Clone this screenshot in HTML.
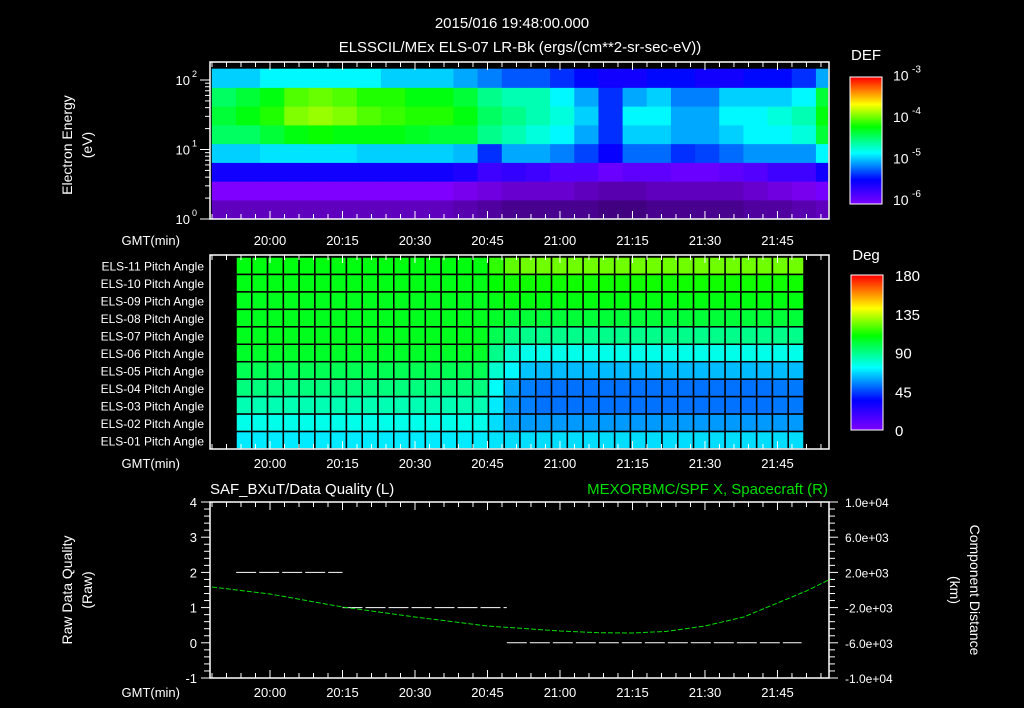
<!DOCTYPE html>
<html><head><meta charset="utf-8"><style>
html,body{margin:0;padding:0;background:#000;}
svg{display:block;font-family:"Liberation Sans",sans-serif;}
text{fill:#fff;}
</style></head><body>
<svg id="c" width="1024" height="708" viewBox="0 0 1024 708" xmlns="http://www.w3.org/2000/svg">
<rect width="1024" height="708" fill="#000"/>
<text x="512" y="28" font-size="15" text-anchor="middle">2015/016 19:48:00.000</text>
<text x="520" y="52" font-size="15" text-anchor="middle">ELSSCIL/MEx ELS-07 LR-Bk  (ergs/(cm**2-sr-sec-eV))</text>
<g id="top"></g>
<g id="mid"></g>
<g id="bot"></g>
</svg>
<script>
// ---------- DATA ----------
const specTimes = [0,5,10,15,20,25,30,35,40,45,50,55,60,65,70,75,80,85,90,95,100,105,110,115,120,125];
const specBands = [0,0.27,0.54,0.81,1.08,1.35,1.62,1.89];
const specR0 = [-6.2,-6.2,-6.2,-6.2,-6.2,-6.2,-6.2,-6.2,-6.2,-6.2,-6.25,-6.3,-6.35,-6.35,-6.35,-6.35,-6.4,-6.4,-6.35,-6.35,-6.35,-6.35,-6.3,-6.3,-6.25,-6.2];
const specR1 = [-6.0,-6.0,-6.0,-6.0,-6.0,-6.0,-6.0,-6.0,-6.0,-6.0,-6.05,-6.1,-6.15,-6.15,-6.15,-6.2,-6.25,-6.25,-6.2,-6.2,-6.2,-6.2,-6.15,-6.1,-6.05,-5.95];
const specR2 = [-5.5,-5.5,-5.5,-5.5,-5.5,-5.5,-5.5,-5.5,-5.5,-5.5,-5.55,-5.7,-5.65,-5.7,-5.8,-5.8,-5.9,-5.85,-5.85,-5.9,-5.9,-5.85,-5.8,-5.7,-5.7,-5.5];
const specR3 = [-4.9,-4.9,-4.85,-4.85,-4.85,-4.85,-4.9,-4.9,-4.9,-4.9,-4.95,-5.3,-5.0,-5.0,-5.1,-5.25,-5.45,-5.15,-5.15,-5.3,-5.25,-5.15,-5.05,-5.05,-5.05,-4.8];
const specR4 = [-4.4,-4.4,-4.3,-4.2,-4.15,-4.2,-4.2,-4.2,-4.25,-4.3,-4.3,-4.5,-4.6,-4.7,-4.8,-5.0,-5.3,-4.9,-4.9,-5.0,-5.0,-4.9,-4.8,-4.8,-4.7,-4.3];
const specR5 = [-4.3,-4.2,-4.1,-3.9,-3.85,-3.9,-4.0,-4.05,-4.1,-4.1,-4.2,-4.4,-4.5,-4.6,-4.7,-4.9,-5.3,-4.8,-4.8,-5.0,-5.0,-4.8,-4.8,-4.7,-4.6,-4.2];
const specR6 = [-4.4,-4.3,-4.2,-4.0,-3.95,-4.0,-4.1,-4.1,-4.2,-4.2,-4.3,-4.5,-4.6,-4.6,-4.8,-5.0,-5.3,-5.0,-4.9,-5.1,-5.1,-4.9,-4.9,-4.9,-4.8,-4.3];
const specR7 = [-4.9,-4.9,-4.8,-4.8,-4.8,-4.8,-4.8,-4.9,-4.9,-4.9,-5.0,-5.1,-5.2,-5.2,-5.3,-5.4,-5.5,-5.5,-5.4,-5.4,-5.5,-5.5,-5.4,-5.4,-5.3,-5.0];
const timeTickLabels = ["20:00","20:15","20:30","20:45","21:00","21:15","21:30","21:45"];
const timeTickMins = [12,27,42,57,72,87,102,117];
const energyTickLabels = ["0","1","2"];
const defTickLabels = ["-6","-5","-4","-3"];
const pitchLabels = ["ELS-11","ELS-10","ELS-09","ELS-08","ELS-07","ELS-06","ELS-05","ELS-04","ELS-03","ELS-02","ELS-01"];
const pitch11 = [108,108,108,108,108,108,108,108,108,108,108,108,108,108,108,108,116,122,124,124,124,124,124,124,124,124,124,124,124,124,124,124,124,124,124,124];
const pitch10 = [107,107,107,107,107,107,107,107,107,107,107,107,107,107,107,107,110,112,112,112,112,112,112,112,112,112,112,112,112,112,112,112,112,112,112,112];
const pitch09 = [106,106,106,106,106,106,106,106,106,106,106,106,106,106,106,106,107,108,108,108,108,108,108,108,108,108,108,108,108,108,108,108,108,108,108,108];
const pitch08 = [106,106,106,106,106,106,106,106,106,106,106,106,106,106,106,106,104,102,102,102,102,102,102,102,102,102,102,102,102,102,102,102,102,102,102,102];
const pitch07 = [106,106,106,106,106,106,106,106,106,106,106,106,106,106,106,106,98,92,90,90,90,90,90,90,90,90,90,90,90,90,90,90,90,90,90,90];
const pitch06 = [104,104,104,104,104,104,104,104,104,104,104,104,104,104,104,104,90,80,76,76,76,76,76,76,76,76,76,76,76,76,76,76,76,76,76,76];
const pitch05 = [98,98,98,98,98,98,98,98,98,98,98,98,98,98,98,98,80,72,64,63,63,63,63,63,63,63,63,63,63,63,63,63,63,63,63,63];
const pitch04 = [92,92,92,92,92,92,92,92,92,92,92,92,92,92,92,92,74,60,54,52,52,52,52,52,52,52,52,52,52,52,52,52,52,52,53,53];
const pitch03 = [84,84,84,84,84,84,84,84,84,84,84,84,84,84,84,84,70,58,54,52,52,52,52,52,52,52,52,52,52,52,52,52,52,52,53,53];
const pitch02 = [76,76,76,76,76,76,76,76,76,76,76,76,76,76,76,76,68,60,58,58,58,58,58,58,58,58,58,58,58,58,58,58,58,58,58,58];
const pitch01 = [70,70,70,70,70,70,70,70,70,70,70,70,70,70,70,70,69,68,68,68,68,68,68,68,68,68,68,68,68,68,68,68,68,68,68,68];
const degTickLabels = ["0","45","90","135","180"];
const qualStart = [5,27,61];
const qualEnd = [27,61,122];
const qualValue = [2,1,0];
const qualTickLabels = ["-1","0","1","2","3","4"];
const distTimes = [0,12,27,42,57,72,80,87,94,102,110,117,123,128];
const distValues = [340,-455,-1930,-3070,-4090,-4660,-4850,-4890,-4700,-4090,-3070,-1480,-100,1250];
const distTickLabels = ["-1.0e+04","-6.0e+03","-2.0e+03","2.0e+03","6.0e+03","1.0e+04"];
const distTickValues = [-10000,-6000,-2000,2000,6000,10000];

// ---------- HELPERS ----------
const NS="http://www.w3.org/2000/svg";
function mk(tag, attrs, parent){const e=document.createElementNS(NS,tag);for(const k in attrs)e.setAttribute(k,attrs[k]);parent.appendChild(e);return e;}
const X0=212, PXM=4.833;
function xT(t){return X0+t*PXM;}
const stops=[[0,[128,0,255]],[35,[0,0,255]],[73,[0,255,255]],[110,[0,255,0]],[142,[255,255,0]],[180,[255,0,0]]];
function cmapRGB(d){d=Math.max(0,Math.min(180,d));for(let i=0;i<stops.length-1;i++){const a=stops[i],b=stops[i+1];if(d<=b[0]){const f=(d-a[0])/(b[0]-a[0]);return a[1].map((v,j)=>Math.round(v+(b[1][j]-v)*f));}}return [255,0,0];}
function cmap(d){return "rgb("+cmapRGB(d).join(",")+")";}
function defColor(v){
  let c=cmapRGB((v+6)*60);
  if(v<-6){const k=Math.max(0,1-(-6-v)/0.8);c=c.map(x=>Math.round(x*k));}
  return "rgb("+c.join(",")+")";
}

function timeAxis(g, yTop, yBot, yLab, names){
  for(let t=0;t<=127;t+=3){
    const major=(t-12)%15===0;
    const L=major?8:5;
    const x=xT(t);
    mk("line",{x1:x,y1:yTop,x2:x,y2:yTop+L,stroke:"#fff","stroke-width":1},g);
    mk("line",{x1:x,y1:yBot,x2:x,y2:yBot-L,stroke:"#fff","stroke-width":1},g);
  }
  timeTickLabels.forEach((s,i)=>{
    const tx=mk("text",{x:xT(timeTickMins[i]),y:yLab,"font-size":13,"text-anchor":"middle"},g);
    tx.textContent=s;
    
    
  });
  const gl=mk("text",{x:180,y:yLab,"font-size":13,"text-anchor":"end"},g);
  gl.textContent="GMT(min)";
  
  
}

// ---------- TOP SPECTROGRAM ----------
const topG=document.getElementById("top");
const specRows=[specR0,specR1,specR2,specR3,specR4,specR5,specR6,specR7];
const EY0=219, EPD=69.5;
function yE(l){return EY0-l*EPD;}
specRows.forEach((row,r)=>{
  const lo=specBands[r], hi=(r+1<specBands.length)?specBands[r+1]:2.16;
  row.forEach((v,i)=>{
    const x1=xT(specTimes[i]), x2=Math.min(828,xT(specTimes[i]+5));
    if(x1>=828)return;
    const rc=mk("rect",{x:x1-0.2,y:yE(hi)-0.2,width:x2-x1+0.4,height:yE(lo)-yE(hi)+0.4,fill:defColor(v)},topG);
    
    
  });
});
mk("rect",{x:210,y:62,width:619,height:157,fill:"none",stroke:"#fff","stroke-width":1.5},topG);
timeAxis(topG,62,219,245,"spectrogram-time");
for(let d=0;d<3;d++){
  for(let m=1;m<10;m++){
    const l=d+Math.log10(m); if(l>2.16)break;
    const L=m===1?10:5;
    mk("line",{x1:210,y1:yE(l),x2:210-L,y2:yE(l),stroke:"#fff"},topG);
  }
  const tx=mk("text",{x:190,y:yE(d)+5,"font-size":13,"text-anchor":"end"},topG);
  tx.textContent="10";
  
  
  const sp=mk("text",{x:192,y:yE(d)-3,"font-size":9},topG);
  sp.textContent=energyTickLabels[d];
}
{
const t1=mk("text",{x:72,y:145,"font-size":14,"text-anchor":"middle",transform:"rotate(-90 72 145)"},topG);
t1.textContent="Electron Energy";


const t2=mk("text",{x:92,y:145,"font-size":14,"text-anchor":"middle",transform:"rotate(-90 92 145)"},topG);
t2.textContent="(eV)";
}
const defg=mk("g",{},topG);


const CB1=77,CB2=204;
for(let y=CB1;y<CB2;y++){
  const v=-6+(CB2-y)/(CB2-CB1)*3;
  mk("rect",{x:850,y:y,width:32,height:1.2,fill:defColor(v)},defg);
}
mk("rect",{x:850,y:CB1,width:32,height:CB2-CB1,fill:"none",stroke:"#fff"},defg);
const dT=mk("text",{x:866,y:60,"font-size":15,"text-anchor":"middle"},defg);dT.textContent="DEF";
defTickLabels.forEach((s,i)=>{
  const y=200-i*41.5;
  const a=mk("text",{x:893,y:y+5,"font-size":14},defg);a.textContent="10";
  
  
  const b=mk("text",{x:912,y:y-3,"font-size":10},defg);b.textContent=s;
});

// ---------- MIDDLE PITCH ANGLE ----------
const midG=document.getElementById("mid");
const pitchRows=[pitch11,pitch10,pitch09,pitch08,pitch07,pitch06,pitch05,pitch04,pitch03,pitch02,pitch01];
const PX1=236, PX2=804, PY1=257, PY2=449;
const cw=(PX2-PX1)/36, rh=(PY2-PY1)/11;
pitchRows.forEach((row,r)=>{
  row.forEach((v,i)=>{
    const rc=mk("rect",{x:PX1+i*cw,y:PY1+r*rh,width:cw,height:rh,fill:cmap(v),stroke:"#000","stroke-width":1.5},midG);
    
    
  });
  const lb=mk("text",{x:204,y:PY1+r*rh+rh/2+5,"font-size":12,"text-anchor":"end"},midG);
  lb.textContent=pitchLabels[r]+" Pitch Angle";
  
  
});
mk("rect",{x:210,y:255,width:619,height:194,fill:"none",stroke:"#fff","stroke-width":1.5},midG);
timeAxis(midG,255,449,468,"pitch-time");
const degg=mk("g",{},midG);


const DB1=275,DB2=430;
for(let y=DB1;y<DB2;y++){
  mk("rect",{x:851,y:y,width:32,height:1.2,fill:cmap((DB2-y)/(DB2-DB1)*180)},degg);
}
mk("rect",{x:851,y:DB1,width:32,height:DB2-DB1,fill:"none",stroke:"#fff"},degg);
const dg=mk("text",{x:866,y:260,"font-size":15,"text-anchor":"middle"},degg);dg.textContent="Deg";
degTickLabels.forEach((s,i)=>{
  const y=DB2-i*(DB2-DB1)/4;
  const a=mk("text",{x:895,y:y+6,"font-size":15},degg);a.textContent=s;
  
  
});

// ---------- BOTTOM ----------
const botG=document.getElementById("bot");
const BY1=502,BY2=678;
function yQ(q){return BY2-(q+1)*(BY2-BY1)/5;}
function yD(d){return BY1+(10000-d)/20000*(BY2-BY1);}
mk("rect",{x:210,y:BY1,width:619,height:BY2-BY1,fill:"none",stroke:"#fff","stroke-width":1.5},botG);
timeAxis(botG,BY1,BY2,697,"quality-time");
for(let i=0;i<=25;i++){
  const y=BY2-i*(BY2-BY1)/25, L=i%5===0?9:6;
  mk("line",{x1:210,y1:y,x2:210-L,y2:y,stroke:"#fff"},botG);
  mk("line",{x1:829,y1:y,x2:829+L,y2:y,stroke:"#fff"},botG);
}
qualTickLabels.forEach((s,i)=>{
  const a=mk("text",{x:197,y:yQ(i-1)+5,"font-size":13,"text-anchor":"end"},botG);a.textContent=s;
  
  
});
distTickLabels.forEach((s,i)=>{
  const a=mk("text",{x:845,y:yD(distTickValues[i])+5,"font-size":12},botG);a.textContent=s;
  
  
});
qualValue.forEach((q,i)=>{
  const ln=mk("line",{x1:xT(qualStart[i]),x2:xT(qualEnd[i]),y1:yQ(q),y2:yQ(q),stroke:"#fff","stroke-width":1,"stroke-dasharray":"20,3"},botG);
  
  
});
{
let d="";
distTimes.forEach((t,i)=>{d+=(i?"L":"M")+xT(t).toFixed(1)+" "+yD(distValues[i]).toFixed(1);});
const p=mk("path",{d:d,fill:"none",stroke:"#00e000","stroke-width":1,"stroke-dasharray":"5,2"},botG);


const l1=mk("text",{x:210,y:494,"font-size":15},botG);l1.textContent="SAF_BXuT/Data Quality (L)";


const l2=mk("text",{x:828,y:494,"font-size":15,"text-anchor":"end",style:"fill:#00e000"},botG);l2.textContent="MEXORBMC/SPF X, Spacecraft (R)";


const a1=mk("text",{x:72,y:590,"font-size":14,"text-anchor":"middle",transform:"rotate(-90 72 590)"},botG);a1.textContent="Raw Data Quality";


const a2=mk("text",{x:92,y:590,"font-size":14,"text-anchor":"middle",transform:"rotate(-90 92 590)"},botG);a2.textContent="(Raw)";
const a3=mk("text",{x:970,y:590,"font-size":14,"text-anchor":"middle",transform:"rotate(90 970 590)"},botG);a3.textContent="Component Distance";


const a4=mk("text",{x:950,y:590,"font-size":14,"text-anchor":"middle",transform:"rotate(90 950 590)"},botG);a4.textContent="(km)";
}
</script>
</body></html>
